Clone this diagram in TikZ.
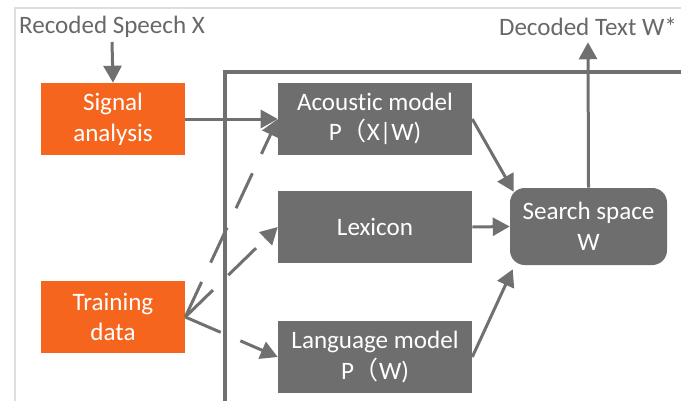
\documentclass[tikz,border=0pt]{standalone}
\usepackage{fontspec}
\setmainfont{Carlito}[Ligatures=NoCommon]
\newfontfamily\cjk{Noto Sans CJK SC}
\usetikzlibrary{arrows.meta,calc}
\definecolor{boxorange}{HTML}{F5651E}
\definecolor{boxgray}{HTML}{6E6E6E}
\definecolor{linegray}{HTML}{707070}
\definecolor{framegray}{HTML}{DEDEDE}
\definecolor{textgray}{HTML}{686868}
\begin{document}
\begin{tikzpicture}[x=0.75pt,y=-0.75pt,
  basefont/.style={font=\fontsize{18.8}{23}\selectfont},
  box/.style={basefont, fill=boxgray, text=white, align=center, inner sep=0pt,
    minimum width=145.5pt, minimum height=54pt},
  srcbox/.style={basefont, fill=boxorange, text=white, align=center, inner sep=0pt,
    minimum width=108pt, minimum height=54pt},
  label/.style={basefont, text=textgray, inner sep=0pt},
  conn/.style={draw=linegray, line width=2.25pt,
    -{Triangle[length=12.75pt,width=13.5pt]}},
  trainconn/.style={conn, dash pattern=on 29pt off 16pt}
]
\useasboundingbox (0,0) rectangle (681,400);

% frames
\draw[framegray, line width=1.5pt] (15,420) |- (700,8);
\draw[linegray, line width=2.6pt] (225,420) |- (700,72);

% nodes
\node[label] (rec) at (112,27) {Recoded Speech X};
\node[label] (dec) at (588,27) {Decoded Text W*};
\node[srcbox] (sig) at (113,119) {Signal\\analysis};
\node[srcbox] (train) at (113,317) {Training\\data};
\node[box] (ac) at (375,119) {Acoustic model\\P{\cjk （}X|W)};
\node[box] (lex) at (375,227) {Lexicon};
\node[box] (lang) at (375,357) {Language model\\P{\cjk （}W)};
\node[box, rounded corners=11pt, minimum width=117.75pt, minimum height=57.75pt]
  (search) at (588.5,226.5) {Search space\\W};

% connectors
\draw[conn] ($(rec.south)+(0,4)$) -- (sig.north);
\draw[conn] (sig.east) -- (ac.west);
\draw[conn] (ac.east) -- ($(search.north west)+(4,4)$);
\draw[conn] (lex.east) -- (search.west);
\draw[conn] (lang.east) -- ($(search.south west)+(3,4)$);
\draw[conn] (search.north) -- ($(dec.south)+(0,6)$);
\draw[trainconn] (train.east) -- (ac.west);
\draw[trainconn] (train.east) -- (lex.west);
\draw[trainconn] (train.east) -- (lang.west);
\end{tikzpicture}
\end{document}
